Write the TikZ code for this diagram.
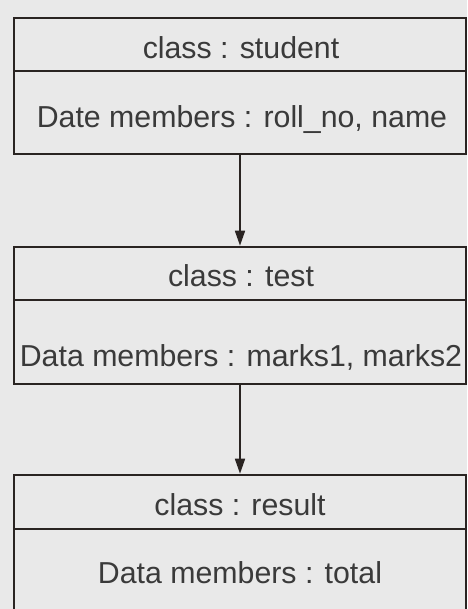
\documentclass[tikz,border=0pt]{standalone}
\usepackage{fontspec}
\setmainfont{Liberation Sans}
\usetikzlibrary{arrows.meta}
\definecolor{paper}{HTML}{E9E9E9}
\definecolor{ink}{HTML}{2A2422}
\definecolor{txt}{HTML}{3A3A3A}
\begin{document}
\begin{tikzpicture}[x=0.5pt,y=-0.5pt,
  part/.style={draw=ink, line width=1.3pt, fill=paper, rectangle, inner sep=0pt, minimum width=226pt},
  lbl/.style={anchor=base, text=txt, font=\fontsize{15.15pt}{18pt}\selectfont, inner sep=0pt},
  link/.style={draw=ink, line width=0.85pt, -{Triangle[length=7.5pt,width=5pt]}}]
\useasboundingbox (0,0) rectangle (467,609);
\fill[paper] (0,0) rectangle (467,609);
\clip (0,0) rectangle (467,609);
% box 1
\node[part, minimum height=26.5pt] (h1) at (240,44.5) {};
\node[part, minimum height=41.5pt] (b1) at (240,112.5) {};
% box 2
\node[part, minimum height=26.5pt] (h2) at (240,273.5) {};
\node[part, minimum height=42pt] (b2) at (240,342) {};
% box 3
\node[part, minimum height=27pt] (h3) at (240,502) {};
\node[part, minimum height=48pt] (b3) at (240,577) {};
% texts
\node[lbl] (t1) at (241,59) {class : student};
\node[lbl] (d1) at (242,128) {Date members : roll\_no, name};
\node[lbl] (t2) at (241,286) {class : test};
\node[lbl] (d2) at (241,366) {Data members : marks1, marks2};
\node[lbl] (t3) at (240,515) {class : result};
\node[lbl] (d3) at (240,583) {Data members : total};
% connectors
\draw[link] (b1.south) -- (h2.north);
\draw[link] (b2.south) -- (h3.north);
\end{tikzpicture}
\end{document}
